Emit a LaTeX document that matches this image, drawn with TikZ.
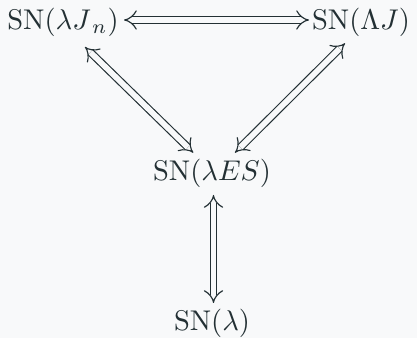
\documentclass[tikz,border=0pt]{standalone}
\usetikzlibrary{arrows.meta,calc}
\definecolor{ink}{RGB}{35,48,52}
\definecolor{bg}{RGB}{248,249,250}
\begin{document}
\begin{tikzpicture}[x=0.3509pt,y=-0.3509pt,
  lbl/.style={anchor=base,inner sep=0pt,text=ink,font=\fontsize{10}{12}\selectfont},
  dbl/.style={draw=ink,line width=0.4pt,double=bg,double distance=2pt,Implies-Implies}]
\fill[bg] (0,0) rectangle (417,338);
\useasboundingbox (0,0) rectangle (417,338);
\node[lbl] (A) at (63,29.5) {$\mathrm{SN}(\lambda J_{\,n})$};
\node[lbl] (B) at (361,29.5) {$\mathrm{SN}(\Lambda J)$};
\node[lbl] (C) at (212,181) {$\mathrm{SN}(\lambda ES)$};
\node[lbl] (D) at (212,330.5) {$\mathrm{SN}(\lambda)$};
\draw[dbl] ($(A.base)+(61,-9.5)$) -- ($(B.base)+(-52,-9.5)$);
\draw[dbl] ($(A.base)+(22,17.5)$) -- ($(C.base)+(-18.7,-28.3)$);
\draw[dbl] ($(B.base)+(-16,13.8)$) -- ($(C.base)+(23,-28.3)$);
\draw[dbl] ($(C.base)+(1.5,14)$) -- ($(D.base)+(1.5,-27.5)$);
\end{tikzpicture}
\end{document}
